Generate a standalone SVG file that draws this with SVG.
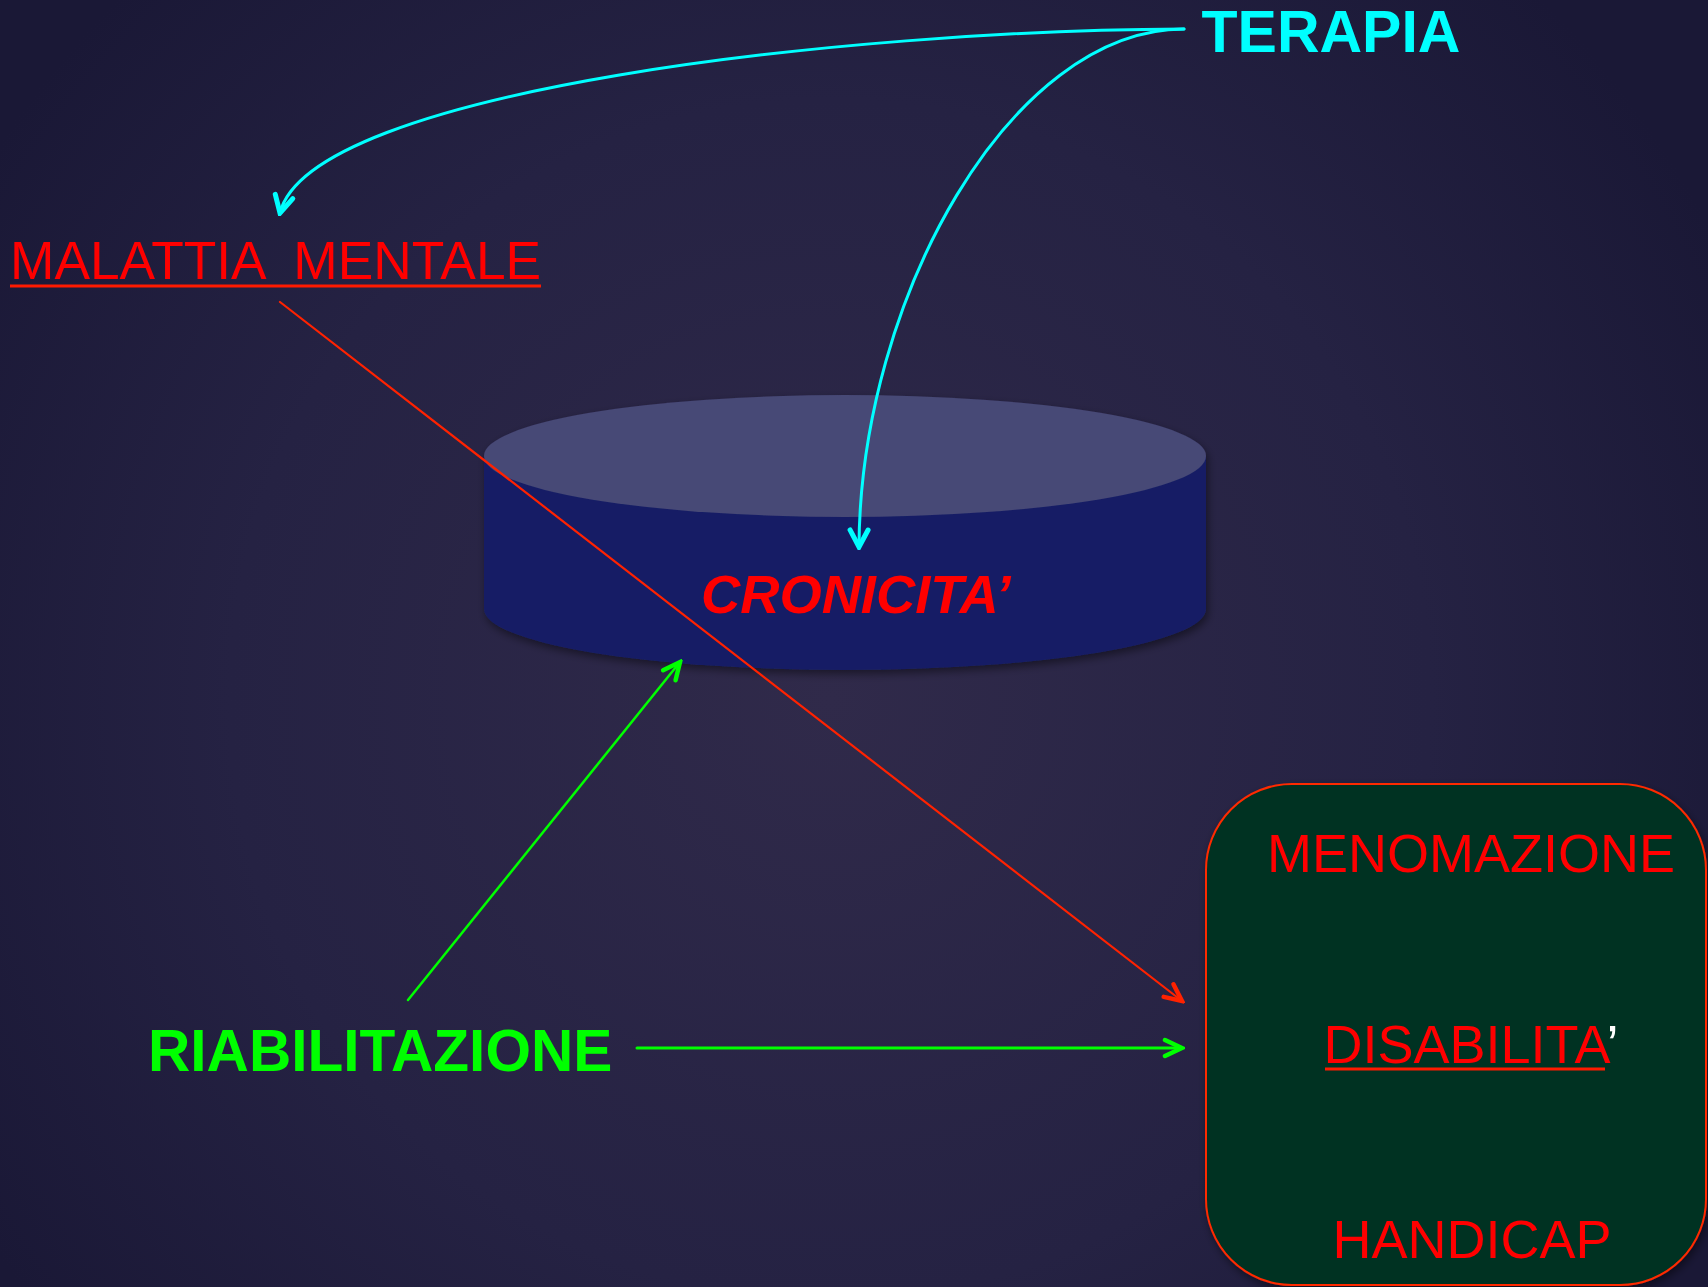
<svg xmlns="http://www.w3.org/2000/svg" width="1708" height="1287" viewBox="0 0 1708 1287">
<defs>
<radialGradient id="bg" cx="830" cy="700" r="1000" gradientUnits="userSpaceOnUse">
<stop offset="0" stop-color="#302a4a"/>
<stop offset="0.6" stop-color="#252243"/>
<stop offset="1" stop-color="#1a1836"/>
</radialGradient>
<filter id="sh" x="-10%" y="-10%" width="120%" height="130%">
<feDropShadow dx="2" dy="4" stdDeviation="4" flood-color="#000" flood-opacity="0.45"/>
</filter>
<marker id="mc" viewBox="0 0 24 24" refX="21" refY="12" markerWidth="24" markerHeight="24" markerUnits="userSpaceOnUse" orient="auto">
<path d="M4,3 L21,12 L4,21" fill="none" stroke="#00ffff" stroke-width="5" stroke-linecap="round"/>
</marker>
<marker id="mr" viewBox="0 0 24 24" refX="21" refY="12" markerWidth="24" markerHeight="24" markerUnits="userSpaceOnUse" orient="auto">
<path d="M4,4 L21,12 L4,20" fill="none" stroke="#ff2200" stroke-width="4.5" stroke-linecap="round"/>
</marker>
<marker id="mg" viewBox="0 0 24 24" refX="21" refY="12" markerWidth="24" markerHeight="24" markerUnits="userSpaceOnUse" orient="auto">
<path d="M4,4 L21,12 L4,20" fill="none" stroke="#00ff00" stroke-width="4.5" stroke-linecap="round"/>
</marker>
</defs>
<style>
.t{font-family:"Liberation Sans",Arial,sans-serif;}
.red{fill:#ff0000;font-size:54px;}
.b{font-weight:bold;}
.c{fill:none;stroke-linecap:round;}
</style>
<rect width="1708" height="1287" fill="url(#bg)"/>

<g id="node-cronicita">
<g filter="url(#sh)">
<path d="M484,456 L484,609 A361,61 0 0 0 1206,609 L1206,456 Z" fill="#171f65"/>
<ellipse cx="845" cy="456" rx="361" ry="61" fill="#474876"/>
</g>
<text class="t b" x="701" y="613" font-size="54.3" font-style="italic" fill="#ff0000">CRONICITA’</text>
</g>

<g id="node-box">
<rect x="1206" y="784" width="500" height="501" rx="86" ry="86" fill="#003220" stroke="#ff2a00" stroke-width="2" filter="url(#sh)"/>
<text class="t red" x="1267" y="872" font-size="52.8">MENOMAZIONE</text>
<text class="t red" x="1323.5" y="1063" font-size="53">DISABILITA<tspan fill="#ffffff">’</tspan></text>
<rect x="1325" y="1067.5" width="280" height="3" fill="#ff1a00"/>
<text class="t red" x="1332.5" y="1258">HANDICAP</text>
</g>

<g id="node-terapia">
<text class="t b" x="1201.5" y="52" font-size="59" fill="#00ffff">TERAPIA</text>
</g>

<g id="node-malattia">
<text class="t" x="10" y="279" font-size="53.3" fill="#ff0000" xml:space="preserve">MALATTIA  MENTALE</text>
<rect x="10" y="284.5" width="531" height="3" fill="#ff1a00"/>
</g>

<g id="node-riabilitazione">
<text class="t b" x="148" y="1071" font-size="58.6" fill="#00ff00">RIABILITAZIONE</text>
</g>

<g id="connectors">
<path class="c" d="M1184,29 C850,30 310,90 280,213" stroke="#00ffff" stroke-width="3" marker-end="url(#mc)"/>
<path class="c" d="M1184,29 C1010,29 860,300 859,547" stroke="#00ffff" stroke-width="3" marker-end="url(#mc)"/>
<path class="c" d="M280,302 L1182,1001" stroke="#ff2200" stroke-width="2.2" marker-end="url(#mr)"/>
<path class="c" d="M408,1000 L680,662" stroke="#00ff00" stroke-width="2.5" marker-end="url(#mg)"/>
<path class="c" d="M637,1048 L1182,1048" stroke="#00ff00" stroke-width="3" marker-end="url(#mg)"/>
</g>
</svg>
